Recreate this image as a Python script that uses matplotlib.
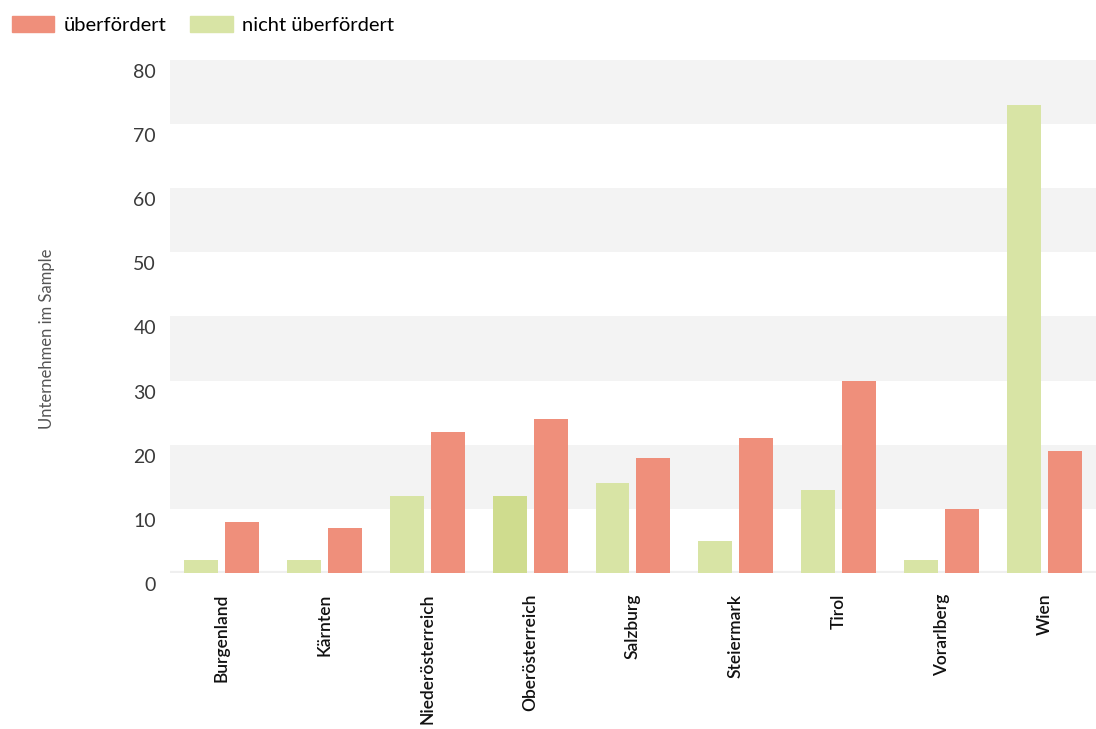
import numpy as np
import matplotlib
matplotlib.use("Agg")
import matplotlib.pyplot as plt
from matplotlib.patches import Patch

plt.rcParams['font.family'] = ['Lato', 'DejaVu Sans']

# data
regions = ["Burgenland", "Kärnten", "Niederösterreich", "Oberösterreich", "Salzburg",
           "Steiermark", "Tirol", "Vorarlberg", "Wien"]
nicht_ueberfordert = [2, 2, 12, 12, 14, 5, 13, 2, 73]
ueberfordert = [8, 7, 22, 24, 18, 21, 30, 10, 19]
y_ticks = [0, 10, 20, 30, 40, 50, 60, 70, 80]

RED = "#ef8f7b"
GREEN = "#d8e4a5"
GREEN_HL = "#cfdc8e"
BAND = "#f3f3f3"

fig = plt.figure(figsize=(10.96, 7.29), dpi=100)
ax = fig.add_axes([0.1551, 0.214, 0.8449, 0.7037])

x = np.arange(len(regions))
w = 0.33
gap = 0.068
green_colors = [GREEN] * len(regions)
green_colors[3] = GREEN_HL
ax.bar(x - (w + gap) / 2, nicht_ueberfordert, width=w, color=green_colors, zorder=3)
ax.bar(x + (w + gap) / 2, ueberfordert, width=w, color=RED, zorder=3)

# alternating background bands
for lo in range(10, 80, 20):
    ax.axhspan(lo, lo + 10, color=BAND, lw=0, zorder=0)
ax.axhline(0, color="#efefef", lw=3, zorder=2)

ax.set_xlim(-0.5, len(regions) - 0.5)
ax.set_ylim(0, 80)

# y labels sit a bit below their band line
ax.set_yticks(y_ticks)
ax.set_yticklabels([])
ytrans = ax.get_yaxis_transform()
for t in y_ticks:
    ax.annotate(str(t), xy=(0, t), xycoords=ytrans, xytext=(-10, -9),
                textcoords="offset points", ha="right", va="center",
                fontsize=14, color="#3a3a3a", annotation_clip=False)

ax.set_xticks(x)
ax.set_xticklabels(regions, rotation=90, fontsize=12.5, fontweight="semibold", color="#111111")
ax.tick_params(axis="both", length=0)
ax.tick_params(axis="x", pad=15)
for s in ax.spines.values():
    s.set_visible(False)

fig.text(0.043, 0.535, "Unternehmen im Sample", rotation=90, ha="center", va="center",
         fontsize=12, color="#555555")

handles = [Patch(color=RED, label="überfördert"), Patch(color=GREEN, label="nicht überfördert")]
fig.legend(handles=handles, loc="upper left", bbox_to_anchor=(0.0, 0.994), ncol=2, frameon=False,
           fontsize=14.5, handlelength=2.1, handleheight=0.8, handletextpad=0.45,
           columnspacing=1.2, borderaxespad=0.2)

fig.savefig("out.png", dpi=100)
